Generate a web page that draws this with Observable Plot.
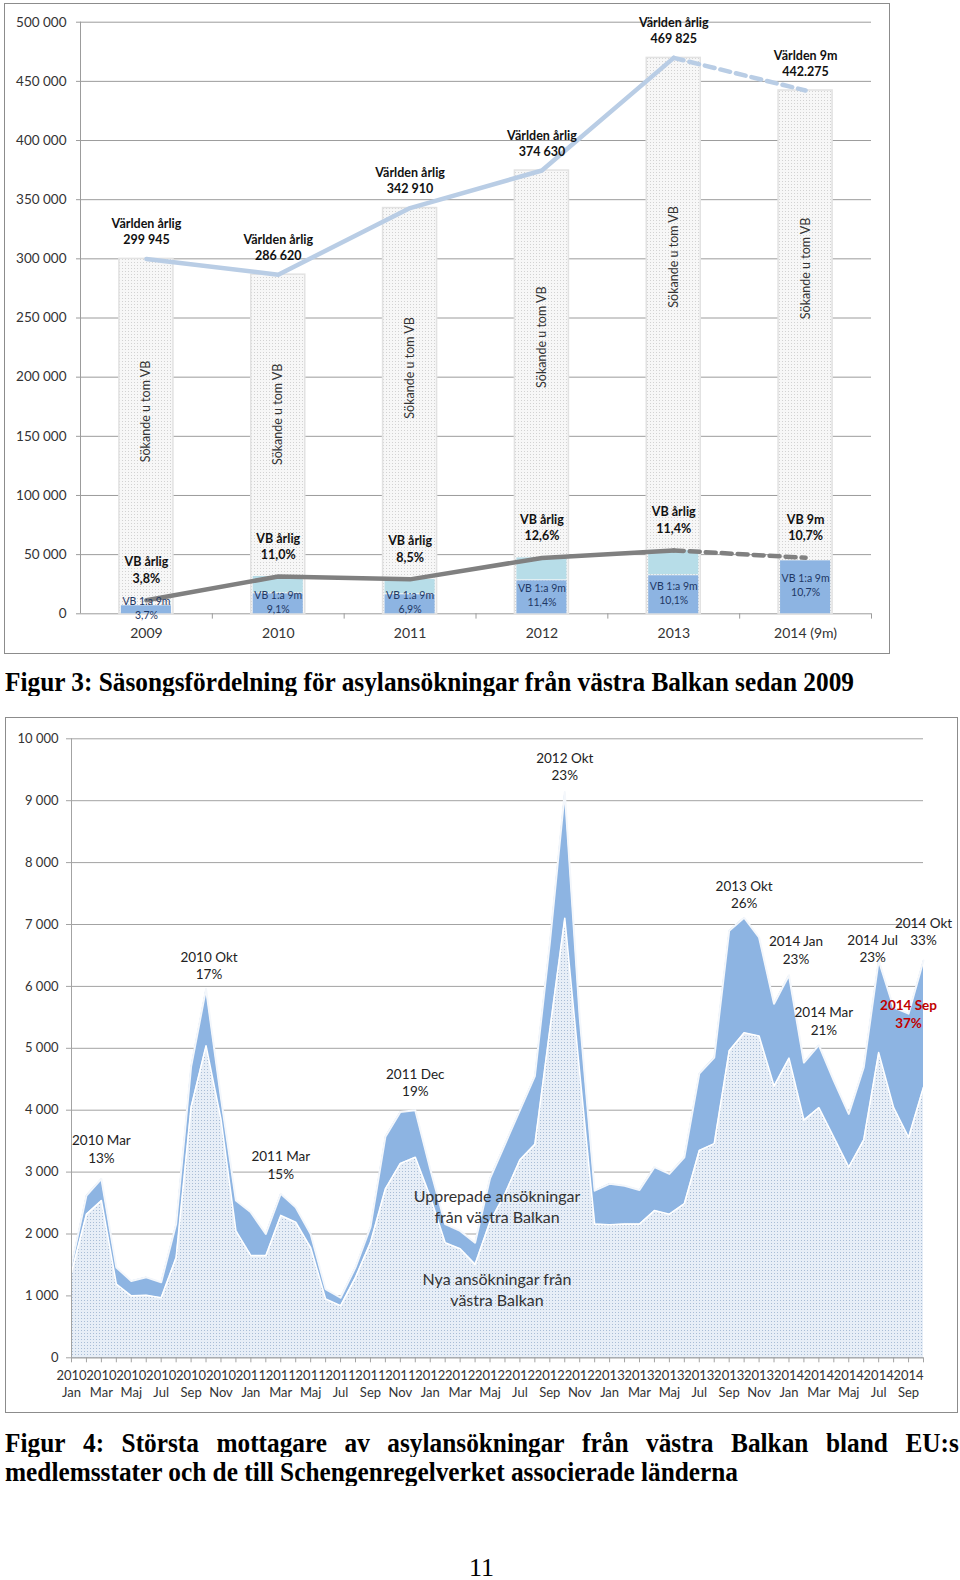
<!DOCTYPE html>
<html><head><meta charset="utf-8">
<script src="https://cdn.jsdelivr.net/npm/d3@7"></script>
<script src="https://cdn.jsdelivr.net/npm/@observablehq/plot@0.6"></script>
<style>
body{margin:0;background:#fff;width:960px;height:1580px;position:relative;overflow:hidden;font-family:Lato,sans-serif}
.frame{position:absolute;border:1px solid #8c8c8c;box-sizing:border-box;background:#fff}
.frame svg{display:block}
.cap{position:absolute;left:5px;font-family:"Liberation Serif","Times New Roman",serif;font-weight:bold;font-size:25px;line-height:25px;white-space:nowrap;transform-origin:0 50%;color:#000}
.just{display:flex;justify-content:space-between}
#page{position:absolute;left:0;width:963px;text-align:center;top:1555px;font-family:"Liberation Serif",serif;font-size:26px;line-height:26px;color:#000}
</style></head><body>
<svg width="0" height="0" style="position:absolute">
  <defs>
    <pattern id="dotsGrey" width="3" height="3" patternUnits="userSpaceOnUse">
      <rect width="3" height="3" fill="#f7f7f7"/><rect width="1" height="1" fill="#d2d2d2"/>
    </pattern>
    <pattern id="dotsBlue" width="3" height="3" patternUnits="userSpaceOnUse">
      <rect width="3" height="3" fill="#e7eef7"/><rect width="1" height="1" fill="#a9bdd6"/>
    </pattern>
  </defs>
</svg>
<div id="top" class="frame" style="left:4px;top:3px;width:886px;height:651px"></div>
<div id="cap3" class="cap" style="top:669px">Figur 3: Säsongsfördelning för asylansökningar från västra Balkan sedan 2009</div>
<div id="bottom" class="frame" style="left:5px;top:717px;width:953px;height:696px"></div>
<div id="cap4a" class="cap just" style="top:1430px">
<span>Figur</span><span>4:</span><span>Största</span><span>mottagare</span><span>av</span><span>asylansökningar</span><span>från</span><span>västra</span><span>Balkan</span><span>bland</span><span>EU:s</span>
</div>
<div id="cap4b" class="cap" style="top:1459px">medlemsstater och de till Schengenregelverket associerade länderna</div>
<div id="page">11</div>
<script>
// ---------- Figure (top): yearly asylum seekers ----------
const years = ["2009", "2010", "2011", "2012", "2013", "2014 (9m)"];
const worldTotal = [299945, 286620, 342910, 374630, 469825, 442275];
const worldLabels = ["Världen årlig\n299 945", "Världen årlig\n286 620", "Världen årlig\n342 910", "Världen årlig\n374 630", "Världen årlig\n469 825", "Världen 9m\n442.275"];
const vbNineMonths = [7600, 17700, 16900, 28700, 33000, 45600];
const vbNineLabels = ["VB 1:a 9m\n3,7%", "VB 1:a 9m\n9,1%", "VB 1:a 9m\n6,9%", "VB 1:a 9m\n11,4%", "VB 1:a 9m\n10,1%", "VB 1:a 9m\n10,7%"];
const vbAnnual = [11400, 31500, 29100, 47200, 53600, 47300];
const vbAnnualBar = [null, 31500, 29100, 47200, 53600, null];
const vbLabels = ["VB årlig\n3,8%", "VB årlig\n11,0%", "VB årlig\n8,5%", "VB årlig\n12,6%", "VB årlig\n11,4%", "VB 9m\n10,7%"];
const insideLabel = "Sökande u tom VB";
const yTicksTop = [0, 50000, 100000, 150000, 200000, 250000, 300000, 350000, 400000, 450000, 500000];

// ---------- Figure (bottom): monthly applications from the western Balkans ----------
const monthNames = ["Jan", "Feb", "Mar", "Apr", "Maj", "Jun", "Jul", "Aug", "Sep", "Okt", "Nov", "Dec"];
const startYear = 2010;
const totalApps = [1500, 2620, 2890, 1460, 1240, 1300, 1220, 2160, 4700, 5960, 4200, 2540,
  2350, 2000, 2650, 2430, 2000, 1110, 970, 1460, 2110, 3570, 3970, 4000,
  3050, 2160, 2050, 1860, 2900, 3450, 4000, 4550, 6700, 9140, 5500, 2700,
  2810, 2780, 2710, 3080, 2970, 3240, 4590, 4850, 6900, 7110, 6790, 5720,
  6180, 4770, 5050, 4480, 3940, 4690, 6420, 5660, 5560, 6420];
const newApps = [1380, 2320, 2540, 1190, 1000, 1010, 970, 1620, 4050, 5040, 3850, 2050,
  1650, 1650, 2300, 2190, 1780, 950, 840, 1300, 1860, 2730, 3140, 3240,
  2600, 1860, 1760, 1510, 2200, 2650, 3200, 3450, 5300, 7100, 4600, 2160,
  2150, 2160, 2160, 2380, 2320, 2490, 3350, 3460, 4960, 5250, 5200, 4390,
  4840, 3840, 4040, 3560, 3080, 3520, 4930, 4040, 3560, 4370];
const annotMonths = [2, 9, 14, 23, 33, 45, 48, 50, 54, 57];
const annotTexts = ["2010 Mar\n13%", "2010 Okt\n17%", "2011 Mar\n15%", "2011 Dec\n19%", "2012 Okt\n23%", "2013 Okt\n26%", "2014 Jan\n23%", "2014 Mar\n21%", "2014 Jul\n23%", "2014 Okt\n33%"];
const highlightMonth = 56;
const highlightText = "2014 Sep\n37%";
const seriesNames = ["Upprepade ansökningar\nfrån västra Balkan", "Nya ansökningar från\nvästra Balkan"];
const yTicksBottom = [0, 1000, 2000, 3000, 4000, 5000, 6000, 7000, 8000, 9000, 10000];

const fmt = d => d3.format(",")(d).replace(/,/g, " ");
const FONT = "Lato, sans-serif";

// ---------- build top chart ----------
const rows = years.map((y, i) => ({i, year: y, world: worldTotal[i], vb9: vbNineMonths[i], vbA: vbAnnual[i], vbBar: vbAnnualBar[i]}));
const hw = 0.205;
const topPlot = Plot.plot({
  width: 884, height: 649,
  marginLeft: 75, marginRight: 18, marginTop: 17.7, marginBottom: 39.7,
  x: {domain: [-0.5, 5.5], axis: null},
  y: {domain: [0, 500000], axis: null},
  style: {fontFamily: FONT, background: "white", color: "#333", overflow: "visible"},
  marks: [
    Plot.ruleY(yTicksTop, {x1: -0.5, x2: 5.5, stroke: "#9c9c9c", strokeWidth: 1}),
    Plot.ruleX([-0.5], {y1: 0, y2: 500000, stroke: "#9c9c9c"}),
    Plot.ruleX(rows.map(d => d.i + 0.5), {y1: 0, y2: -4500, stroke: "#9c9c9c"}),
    Plot.rectY(rows, {x1: d => d.i - hw, x2: d => d.i + hw, y1: 0, y2: "world", fill: "url(#dotsGrey)", stroke: "#e2e2e2", strokeWidth: 1.5}),
    Plot.text(rows, {x: "i", y: d => d.world * (0.57 + 0.018 * d.i), text: () => insideLabel, rotate: -90, fontSize: 12.5, fill: "#333"}),
    Plot.rectY(rows.filter(d => d.vbBar != null), {x1: d => d.i - hw, x2: d => d.i + hw, y1: "vb9", y2: "vbBar", fill: "#b7dde8", insetLeft: 2, insetRight: 2}),
    Plot.rectY(rows, {x1: d => d.i - hw, x2: d => d.i + hw, y1: 0, y2: "vb9", fill: "#8db4e2", insetLeft: 2, insetRight: 2, insetTop: 1}),
    Plot.line(rows.slice(0, 5), {x: "i", y: "world", stroke: "#b9cde5", strokeWidth: 4.5}),
    Plot.line(rows.slice(4), {x: "i", y: "world", stroke: "#b9cde5", strokeWidth: 4.5, strokeDasharray: "10,6"}),
    Plot.line(rows.slice(0, 5), {x: "i", y: "vbA", stroke: "#808080", strokeWidth: 4.5}),
    Plot.line(rows.slice(4), {x: "i", y: "vbA", stroke: "#808080", strokeWidth: 4.5, strokeDasharray: "10,6"}),
    Plot.text(rows, {x: "i", y: d => d.vb9 / 2, dy: -2, text: (d, i) => vbNineLabels[i], fontSize: 10.5, lineHeight: 1.35, fill: "#1f3864"}),
    Plot.text(rows, {x: "i", y: "vbA", dy: -31, text: (d, i) => vbLabels[i], fontSize: 12.5, fontWeight: "bold", lineHeight: 1.3, fill: "#111"}),
    Plot.text(rows, {x: "i", y: "world", dy: -28, text: (d, i) => worldLabels[i], fontSize: 12.5, fontWeight: "bold", lineHeight: 1.3, fill: "#111"}),
    Plot.axisY({ticks: yTicksTop, tickFormat: fmt, tickSize: 4, tickPadding: 10, fontSize: 13.5, stroke: "#9c9c9c", fill: "#333", label: null}),
    Plot.axisX({ticks: rows.map(d => d.i), tickFormat: i => years[i], tickSize: 0, tickPadding: 14, fontSize: 14, fill: "#333", label: null})
  ]
});
document.getElementById("top").appendChild(topPlot);

// ---------- build bottom chart ----------
const months = totalApps.map((t, i) => ({i, total: t, nya: newApps[i], rep: t - newApps[i]}));
const monthLabel = i => `${startYear + Math.floor(i / 12)}\n${monthNames[i % 12]}`;
const annOffsets = [[0, -30.5], [3, -24], [0, -29.5], [0, -28.5], [0, -26], [0, -24], [7, -26], [5, -25], [-6, -12.5], [0, -29.5]];
const bottomPlot = Plot.plot({
  width: 951, height: 694,
  marginLeft: 65, marginRight: 34, marginTop: 20.3, marginBottom: 54.7,
  x: {domain: [0, 57], axis: null},
  y: {domain: [0, 10000], axis: null},
  style: {fontFamily: FONT, background: "white", color: "#222", overflow: "visible"},
  marks: [
    Plot.ruleY(yTicksBottom, {x1: 0, x2: 57, stroke: "#a3a3a3", strokeWidth: 1}),
    Plot.areaY(months, {x: "i", y1: 0, y2: "total", fill: "#8db4e2"}),
    Plot.lineY(months, {x: "i", y: "total", stroke: "#f4f7fb", strokeWidth: 2}),
    Plot.areaY(months, {x: "i", y1: 0, y2: "nya", fill: "url(#dotsBlue)"}),
    Plot.lineY(months, {x: "i", y: "nya", stroke: "#ffffff", strokeWidth: 1.6}),
    Plot.ruleX([0], {y1: 0, y2: 10000, stroke: "#a3a3a3"}),
    Plot.ruleY([0], {x1: 0, x2: 57, stroke: "#a3a3a3"}),
    ...annotMonths.map((m, k) => Plot.text([months[m]], {x: "i", y: "total", text: () => annotTexts[k], dx: annOffsets[k][0], dy: annOffsets[k][1], fontSize: 13.5, lineHeight: 1.3, fill: "#222"})),
    Plot.text([months[highlightMonth]], {x: "i", y: "total", text: () => highlightText, dy: 0, fontSize: 13.5, fontWeight: "bold", lineHeight: 1.3, fill: "#c00000"}),
    Plot.text([months[28]], {x: "i", y: 2450, dx: 7, text: () => seriesNames[0], fontSize: 16, lineHeight: 1.3, fill: "#333"}),
    Plot.text([months[28]], {x: "i", y: 1120, dx: 7, text: () => seriesNames[1], fontSize: 16, lineHeight: 1.35, fill: "#333"}),
    Plot.axisY({ticks: yTicksBottom, tickFormat: fmt, tickSize: 5, tickPadding: 8, fontSize: 13, stroke: "#a3a3a3", fill: "#333", label: null}),
    Plot.axisX({ticks: months.map(d => d.i), tickFormat: i => (i % 2 ? "" : monthLabel(i)), tickSize: 5, tickPadding: 5, fontSize: 13, lineHeight: 1.3, stroke: "#a3a3a3", fill: "#333", label: null})
  ]
});
document.getElementById("bottom").appendChild(bottomPlot);

// ---------- captions: fit widths ----------
function fit() {
  const c3 = document.getElementById("cap3");
  c3.style.transform = "none";
  const w3 = c3.getBoundingClientRect().width;
  c3.style.transform = `scale(${849 / w3}, 1.06)`;
  const c4b = document.getElementById("cap4b");
  c4b.style.transform = "none";
  const w4 = c4b.getBoundingClientRect().width;
  const s = 733 / w4;
  c4b.style.transform = `scale(${s}, 1.06)`;
  const c4a = document.getElementById("cap4a");
  c4a.style.width = (954 / s) + "px";
  c4a.style.transform = `scale(${s}, 1.06)`;
}
fit();
if (document.fonts && document.fonts.ready) document.fonts.ready.then(fit);
</script>
</body></html>
